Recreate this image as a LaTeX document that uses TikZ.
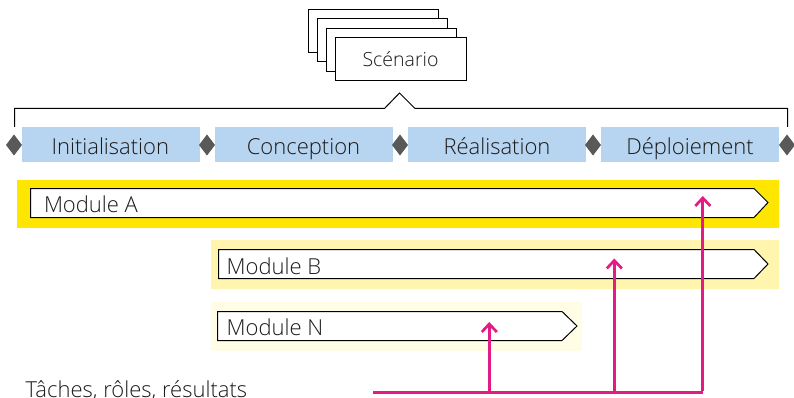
\documentclass[tikz,border=0pt]{standalone}
\usepackage{fontspec}
\setmainfont{Open Sans Light}
\usetikzlibrary{arrows.meta}
\definecolor{txt}{HTML}{1A1A1A}
\definecolor{bluebox}{HTML}{B7D4F0}
\definecolor{diam}{HTML}{595959}
\definecolor{yelA}{HTML}{FFE600}
\definecolor{yelB}{HTML}{FFF5AE}
\definecolor{yelN}{HTML}{FFFDE6}
\definecolor{pinkl}{HTML}{E41B84}
\tikzset{
  x=1pt,y=-1pt,
  card/.style={draw=black,line width=1pt,fill=white},
  phase/.style={fill=bluebox,inner sep=0pt,minimum width=178pt,minimum height=35pt},
  phaselabel/.style={anchor=base,inner sep=0pt,text=txt,font=\fontsize{22}{26}\selectfont},
  lozenge/.style={fill=diam,draw=none},
  band/.style={draw=none},
  modshape/.style={draw=black,line width=1pt,fill=white,line join=miter},
  modlabel/.style={anchor=base west,inner sep=0pt,text=txt,font=\fontsize{22}{26}\selectfont},
  link/.style={draw=pinkl,line width=2.7pt},
  linkarrow/.style={link,-{Straight Barb[length=8pt,width=15pt,line width=2.7pt]}},
}
\newcommand{\lozengeat}[1]{\fill[lozenge] (#1-8,145) -- (#1,134.5) -- (#1+8,145) -- (#1,155.5) -- cycle;}
\begin{document}
\begin{tikzpicture}
\useasboundingbox (0,0) rectangle (794,398);
% stacked cards
\draw[card] (308.5,9.5) rectangle (438.5,52.5);
\draw[card] (317.5,18.5) rectangle (447.5,61.5);
\draw[card] (326.5,28.5) rectangle (456.5,71.5);
\draw[card] (335.5,37.5) rectangle (466.5,80.5);
\node[anchor=base,inner sep=0pt,text=txt,font=\fontsize{19.5}{23}\selectfont] (scen) at (400.5,67) {Scénario};
% bracket
\draw[line width=1pt,draw=black] (14.5,127) -- (14.5,108.5) -- (384.5,108.5) -- (399.5,93) -- (415,108.5) -- (787.5,108.5) -- (787.5,127);
% phases
\node[phase] (p1) at (111,144.5) {};
\node[phase] (p2) at (304,144.5) {};
\node[phase] (p3) at (497,144.5) {};
\node[phase] (p4) at (690,144.5) {};
\node[phaselabel] at (110.3,154) {Initialisation};
\node[phaselabel] at (303.5,154) {Conception};
\node[phaselabel] at (497,154) {Réalisation};
\node[phaselabel] at (690,154) {Déploiement};
\lozengeat{14}\lozengeat{207}\lozengeat{400}\lozengeat{593}\lozengeat{787}
% module bands
\fill[yelA,band] (17,180) rectangle (779,228);
\fill[yelB,band] (211,240) rectangle (779,289);
\fill[yelN,band] (211,302) rectangle (582,351);
\draw[modshape] (30.5,188.5) -- (754,188.5) -- (768,202.5) -- (754,217.5) -- (30.5,217.5) -- cycle;
\draw[modshape] (218.5,249.5) -- (754,249.5) -- (768,264) -- (754,278.5) -- (218.5,278.5) -- cycle;
\draw[modshape] (217.5,311.5) -- (562,311.5) -- (577,326) -- (562,340.5) -- (217.5,340.5) -- cycle;
\node[modlabel] (ma) at (43.8,212) {Module A};
\node[modlabel] (mb) at (226.5,274) {Module B};
\node[modlabel] (mn) at (226.5,335) {Module N};
% bottom label
\node[modlabel] (t) at (25.5,397) {Tâches, rôles, résultats};
% pink connectors
\coordinate (s) at (373,392.3);
\coordinate (j1) at (489.3,392.3);
\coordinate (j2) at (614.3,392.3);
\coordinate (j3) at (702.8,392.3);
\coordinate (e1) at (489.3,322);
\coordinate (e2) at (614.3,258.5);
\coordinate (e3) at (702.8,196);
\draw[link,line cap=butt,line join=miter] (s) -- (j3);
\draw[linkarrow] (j1) -- (e1);
\draw[linkarrow] (j2) -- (e2);
\draw[linkarrow] ([yshift=1.35pt]j3) -- (e3);
\end{tikzpicture}
\end{document}
